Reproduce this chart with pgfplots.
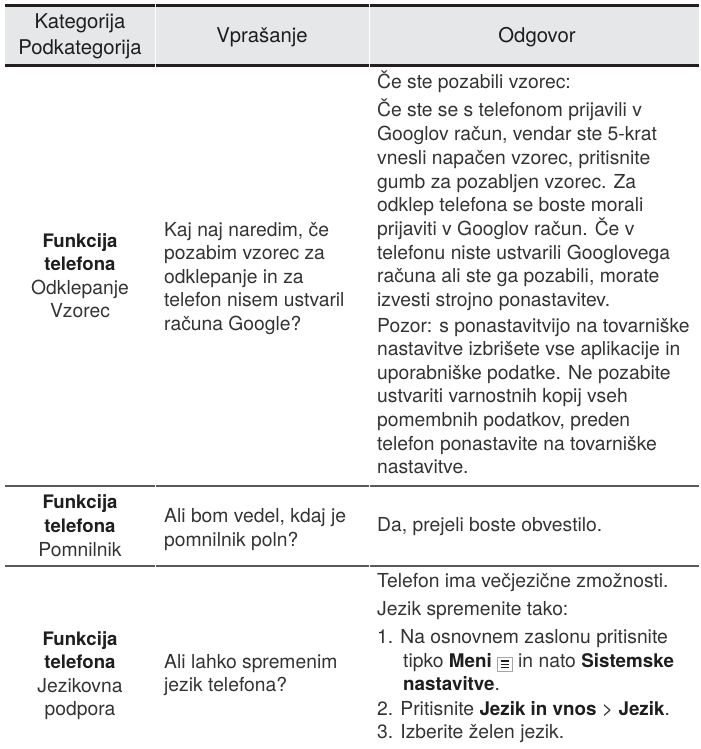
\documentclass[border=0pt]{standalone}
\usepackage{fontspec}
\setmainfont{TeX Gyre Heros}
\usepackage{pgfplots}
\pgfplotsset{compat=1.18}
\definecolor{bodytxt}{HTML}{333333}
\definecolor{headtxt}{HTML}{1E1E1E}
\definecolor{hdrrule}{HTML}{231F20}
\definecolor{rowrule}{HTML}{5A5A5A}
\definecolor{hdrfill}{HTML}{E6E7E8}
\newcommand\bodyfont{\fontsize{19.3bp}{23.5bp}\selectfont}
\newcommand\headfont{\fontsize{20.3bp}{24bp}\selectfont}
\newcommand\catfont{\fontsize{18.6bp}{23bp}\selectfont\bfseries}
% body line, left aligned at baseline
\newcommand\Tl[3]{\node[anchor=base west,inner sep=0pt,font=\bodyfont,text=bodytxt] at (axis cs:#1,#2) {#3};}
% body line, centred
\newcommand\Tc[3]{\node[anchor=base,inner sep=0pt,font=\bodyfont,text=bodytxt] at (axis cs:#1,#2) {#3};}
% category line, centred, bold
\newcommand\Tb[3]{\node[anchor=base,inner sep=0pt,font=\catfont,text=headtxt] at (axis cs:#1,#2) {#3};}
% header line, centred
\newcommand\Th[3]{\node[anchor=base,inner sep=0pt,font=\headfont,text=headtxt] at (axis cs:#1,#2) {#3};}
\newcommand\B[1]{{\color{headtxt}\fontsize{18.8bp}{23.5bp}\selectfont\bfseries #1}}
\newcommand\menuicon{{\setlength\fboxsep{2.8bp}\setlength\fboxrule{0.8bp}\raisebox{-1.2bp}{\fcolorbox{gray!70}{white}{\color{headtxt}\vbox{\hrule width 8.5bp height 1.4bp\vskip1.8bp\hrule width 8.5bp height 1.4bp\vskip1.8bp\hrule width 8.5bp height 1.4bp}}}}}
\begin{document}
\begin{tikzpicture}
\begin{axis}[width=699bp,height=749bp,scale only axis,
  xmin=0,xmax=699,ymin=0,ymax=749,y dir=reverse,
  hide axis,clip=false]
\path (rel axis cs:0,0) rectangle (rel axis cs:1,1);
% header band
\addplot[fill=hdrfill,draw=none] coordinates {(5,5.7) (699,5.7) (699,65.5) (5,65.5)};
\addplot[draw=white,line width=0.7bp] coordinates {(155,7) (155,64)};
\addplot[draw=white,line width=0.7bp] coordinates {(369,7) (369,64)};
% header rules
\addplot[draw=hdrrule,line width=2.4bp] coordinates {(5,5.7) (154.5,5.7)};
\addplot[draw=hdrrule,line width=2.4bp] coordinates {(155.5,5.7) (368.5,5.7)};
\addplot[draw=hdrrule,line width=2.4bp] coordinates {(369.5,5.7) (699,5.7)};
\addplot[draw=hdrrule,line width=2.4bp] coordinates {(5,65.5) (154.5,65.5)};
\addplot[draw=hdrrule,line width=2.4bp] coordinates {(155.5,65.5) (368.5,65.5)};
\addplot[draw=hdrrule,line width=2.4bp] coordinates {(369.5,65.5) (699,65.5)};
% row rules
\addplot[draw=rowrule,line width=1.3bp] coordinates {(5,486) (154.5,486)};
\addplot[draw=rowrule,line width=1.3bp] coordinates {(155.5,486) (368.5,486)};
\addplot[draw=rowrule,line width=1.3bp] coordinates {(369.5,486) (699,486)};
\addplot[draw=rowrule,line width=1.3bp] coordinates {(5,566) (154.5,566)};
\addplot[draw=rowrule,line width=1.3bp] coordinates {(155.5,566) (368.5,566)};
\addplot[draw=rowrule,line width=1.3bp] coordinates {(369.5,566) (699,566)};
% header text
\Th{80}{29}{Kategorija}
\Th{80}{55}{Podkategorija}
\Th{262}{43}{Vprašanje}
\Th{537}{43}{Odgovor}
% row 1
\Tb{80}{247.5}{Funkcija}
\Tb{80}{270.5}{telefona}
\Tc{80}{294}{Odklepanje}
\Tc{80}{317.5}{Vzorec}
\Tl{164}{236}{Kaj naj naredim, če}
\Tl{164}{259.5}{pozabim vzorec za}
\Tl{164}{283}{odklepanje in za}
\Tl{164}{306.5}{telefon nisem ustvaril}
\Tl{164}{330}{računa Google?}
\Tl{377}{88.5}{Če ste pozabili vzorec:}
\Tl{377}{117}{Če ste se s telefonom prijavili v}
\Tl{377}{140.7}{Googlov račun, vendar ste 5-krat}
\Tl{377}{164.4}{vnesli napačen vzorec, pritisnite}
\Tl{377}{188.1}{gumb za pozabljen vzorec. Za}
\Tl{377}{211.8}{odklep telefona se boste morali}
\Tl{377}{235.5}{prijaviti v Googlov račun. Če v}
\Tl{377}{259.2}{telefonu niste ustvarili Googlovega}
\Tl{377}{282.9}{računa ali ste ga pozabili, morate}
\Tl{377}{306.6}{izvesti strojno ponastavitev.}
\Tl{377}{332}{Pozor: s ponastavitvijo na tovarniške}
\Tl{377}{355.6}{nastavitve izbrišete vse aplikacije in}
\Tl{377}{379.2}{uporabniške podatke. Ne pozabite}
\Tl{377}{402.8}{ustvariti varnostnih kopij vseh}
\Tl{377}{426.4}{pomembnih podatkov, preden}
\Tl{377}{450}{telefon ponastavite na tovarniške}
\Tl{377}{473.6}{nastavitve.}
% row 2
\Tb{80}{508.5}{Funkcija}
\Tb{80}{532}{telefona}
\Tc{80}{556.5}{Pomnilnik}
\Tl{164}{522.5}{Ali bom vedel, kdaj je}
\Tl{164}{546}{pomnilnik poln?}
\Tl{377}{531}{Da, prejeli boste obvestilo.}
% row 3
\Tb{80}{645}{Funkcija}
\Tb{80}{668.5}{telefona}
\Tc{80}{692}{Jezikovna}
\Tc{80}{715.5}{podpora}
\Tl{164}{668}{Ali lahko spremenim}
\Tl{164}{691.5}{jezik telefona?}
\Tl{377}{587}{Telefon ima večjezične zmožnosti.}
\Tl{377}{615.5}{Jezik spremenite tako:}
\Tl{377}{643}{1. Na osnovnem zaslonu pritisnite}
\Tl{403}{667}{tipko \B{Meni} \menuicon{} in nato \B{Sistemske}}
\Tl{403}{690.5}{\B{nastavitve}.}
\Tl{377}{715}{2. Pritisnite \B{Jezik in vnos} > \B{Jezik}.}
\Tl{377}{738.5}{3. Izberite želen jezik.}
\end{axis}
\end{tikzpicture}
\end{document}
